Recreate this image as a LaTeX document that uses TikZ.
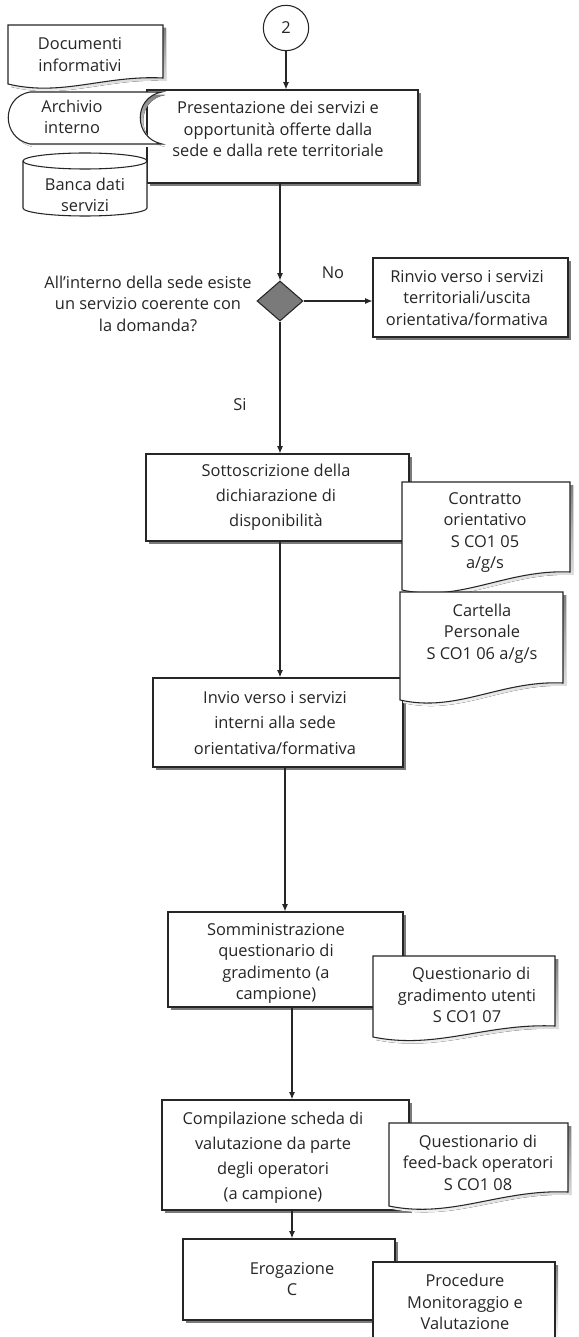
\documentclass[tikz,border=0pt]{standalone}
\usepackage{fontspec}
\setmainfont{Open Sans}
\usetikzlibrary{arrows.meta,shadows,fit,shapes.geometric}
\definecolor{ink}{HTML}{262626}
\definecolor{shade}{HTML}{7A7A7A}
\newcommand\docshape[5]{%
  \pgfmathsetmacro\ca{#1+0.35*(#3-#1)}%
  \pgfmathsetmacro\cb{#1+0.62*(#3-#1)}%
  \pgfmathsetmacro\cy{#4+13}%
  \pgfmathsetmacro\cz{#5-3}%
  \fill[shade,shift={(3,3)}] (#1,#2) -- (#3,#2) -- (#3,#5) .. controls (\cb,\cz) and (\ca,\cy) .. (#1,#4) -- cycle;
  \filldraw[fill=white,draw=ink,line width=0.8pt] (#1,#2) -- (#3,#2) -- (#3,#5) .. controls (\cb,\cz) and (\ca,\cy) .. (#1,#4) -- cycle;
}
\begin{document}
\begin{tikzpicture}[x=0.75pt,y=-0.75pt,
  txt/.style={font=\fontsize{12.3}{16.2}\selectfont, align=center, text=ink, inner sep=0pt},
  wtxt/.style={txt, font=\fontsize{12.3}{18.8}\selectfont},
  proc/.style={draw=ink, line width=0.8pt, fill=white, inner sep=0pt,
    drop shadow={shadow xshift=2.2pt, shadow yshift=-2.2pt, fill=shade, opacity=1}},
  arr/.style={draw=ink, line width=0.8pt, -{Latex[length=5.5pt,width=4.5pt]}},
  barr/.style={arr, line width=1.4pt}]
\useasboundingbox (0,0) rectangle (578,1337);
\fill[white] (0,0) rectangle (578,1337);

% ---- process boxes ----
\node[proc, fit={(147,90)(418,183)}] (pres) {};
\node[txt] (prest) at (278,129) {Presentazione dei servizi e\\opportunità offerte dalla\\sede e dalla rete territoriale};
\node[proc, fit={(373,258)(568,337)}] (rinvio) {};
\node[txt] (rinviot) at (467,298) {Rinvio verso i servizi\\territoriali/uscita\\orientativa/formativa};
\node[proc, fit={(146,454)(409,541)}] (sott) {};
\node[wtxt] (sottt) at (276,497.5) {Sottoscrizione della\\dichiarazione di\\disponibilità};
\node[proc, fit={(153,678)(403,767)}] (invio) {};
\node[wtxt] (inviot) at (275,723) {Invio verso i servizi\\interni alla sede\\orientativa/formativa};
\node[proc, fit={(168,912)(403,1007)}] (somm) {};
\node[txt] (sommt) at (276,963.5) {Somministrazione\\questionario di\\gradimento (a\\campione)};
\node[proc, fit={(162,1100)(409,1210)}] (comp) {};
\node[wtxt] (compt) at (273,1157.5) {Compilazione scheda di\\valutazione da parte\\degli operatori\\(a campione)};
\node[proc, fit={(183,1239)(395,1320)}] (erog) {};
\node[txt] (erogt) at (292,1279) {Erogazione\\C};

% ---- connector circle ----
\node[draw=ink, line width=0.8pt, circle, minimum size=34pt, inner sep=0pt, fill=white, txt] (circ) at (286,28) {2};

% ---- decision ----
\node[diamond, draw=ink, fill=shade, line width=0.8pt, inner sep=0pt, minimum width=34.5pt, minimum height=30pt] (dec) at (280,301) {};

% ---- left-side data shapes ----
\docshape{8}{25}{163}{84}{78}
\node[txt] (docinfo) at (80,54.5) {Documenti\\informativi};

\fill[shade,shift={(3,3)}] (30,92) -- (162,92) .. controls (133,97) and (133,138) .. (162,144) -- (30,144) .. controls (1,138) and (1,97) .. (30,92) -- cycle;
\filldraw[fill=white,draw=ink,line width=0.8pt] (30,92) -- (162,92) .. controls (133,97) and (133,138) .. (162,144) -- (30,144) .. controls (1,138) and (1,97) .. (30,92) -- cycle;
\node[txt] (arch) at (72,117) {Archivio\\interno};

\filldraw[fill=white,draw=ink,line width=0.8pt] (23,161) -- (23,208) arc[start angle=180,end angle=0,x radius=62,y radius=8] -- (147,161) arc[start angle=0,end angle=-180,x radius=62,y radius=8] -- cycle;
\draw[ink,line width=0.8pt] (23,161) arc[start angle=180,end angle=0,x radius=62,y radius=8];
\node[txt] (banca) at (85,195) {Banca dati\\servizi};

% ---- right-side documents ----
\docshape{402}{482}{570}{590}{572}
\node[txt] (contr) at (485,532.5) {Contratto\\orientativo\\S CO1 05\\a/g/s};
\docshape{400}{592}{563}{700}{683}
\node[txt] (cart) at (482,633.5) {Cartella\\Personale\\S CO1 06 a/g/s};
\docshape{373}{956}{555}{1037}{1026}
\node[txt] (questu) at (467,995) {\ \ Questionario di\\gradimento utenti\\S CO1 07};
\docshape{389}{1123}{568}{1206}{1192}
\node[txt] (questf) at (478,1162.5) {Questionario di\\feed-back operatori\\S CO1 08};
% open document at the bottom
\fill[shade] (376,1265) rectangle (558,1340);
\fill[white] (373,1262) rectangle (555,1340);
\draw[ink,line width=0.8pt] (373,1340) -- (373,1262) -- (555,1262) -- (555,1340);
\node[txt] (proc) at (465,1302) {Procedure\\Monitoraggio e\\Valutazione};

% ---- labels ----
\node[txt] (quest) at (148,303.5) {All'interno della sede esiste\\un servizio coerente con\\la domanda?};
\node[txt] (no) at (333,273) {No};
\node[txt] (si) at (240,405) {Si};

% ---- connectors ----
\coordinate (t2) at (285,0);
\coordinate (t3) at (292,0);
\draw[arr] (circ) -- (circ.south |- pres.north);
\draw[arr] (pres.south -| dec.north) -- (dec.north);
\draw[arr] (dec.east) -- (dec.east -| rinvio.west);
\draw[arr] (dec.south) -- (dec.south |- sott.north);
\draw[barr] (sott.south -| dec.south) -- (invio.north -| dec.south);
\draw[arr] (invio.south -| t2) -- (somm.north -| t2);
\draw[barr] (somm.south -| t3) -- (comp.north -| t3);
\draw[barr] (comp.south -| t3) -- (erog.north -| t3);
\end{tikzpicture}
\end{document}
